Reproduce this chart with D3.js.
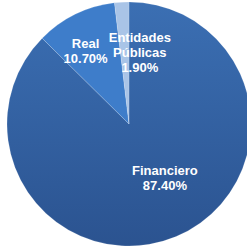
<!DOCTYPE html>
<html>
<head>
<meta charset="utf-8">
<script src="https://cdn.jsdelivr.net/npm/d3@7"></script>
<style>
  body { margin: 0; background: #fff; }
  svg { display: block; }
  .lbl { font-family: "Liberation Sans", Arial, sans-serif; font-weight: bold; font-size: 13px; fill: #fff; }
</style>
</head>
<body>
<div id="chart"></div>
<script>
// data
var sectors = ["Financiero", "Real", "Entidades Públicas"];
var shares = [87.40, 10.70, 1.90];
var labelLines = [["Financiero", "87.40%"], ["Real", "10.70%"], ["Entidades", "Públicas", "1.90%"]];

var width = 247, height = 248;
var cx = 129, cy = 124, radius = 122;

var svg = d3.select("#chart").append("svg")
    .attr("width", width)
    .attr("height", height);

// gradient for the big slice
var defs = svg.append("defs");
var grad = defs.append("linearGradient")
    .attr("id", "gFin")
    .attr("x1", 0).attr("y1", 0).attr("x2", 0).attr("y2", 1);
grad.append("stop").attr("offset", "0%").attr("stop-color", "#3b6fb3");
grad.append("stop").attr("offset", "100%").attr("stop-color", "#2b5390");

var fills = ["url(#gFin)", "#3e7dca", "#a9c4e7"];

var pie = d3.pie().sort(null).value(function(d) { return d; });
var arc = d3.arc().innerRadius(0).outerRadius(radius);

var g = svg.append("g").attr("transform", "translate(" + cx + "," + cy + ")");

var arcs = pie(shares);

g.selectAll("path.slice")
    .data(arcs)
  .enter().append("path")
    .attr("class", "slice")
    .attr("d", arc)
    .attr("fill", function(d, i) { return fills[i]; })
    .attr("stroke", "rgba(255,255,255,0.25)")
    .attr("stroke-width", 0.6);

// label placement: centroid at a radius, plus small nudges
var labelPos = [
    {r: 62, dx: 12, dy: -4},
    {r: 85, dx: -6, dy: 3},
    {r: 70, dx: 15, dy: -2}
];

arcs.forEach(function(d, i) {
    var p = labelPos[i];
    var c = d3.arc().innerRadius(p.r).outerRadius(p.r).centroid(d);
    var lines = labelLines[i];
    var lh = 15;
    var t = g.append("text")
        .attr("class", "lbl")
        .attr("text-anchor", "middle")
        .attr("transform", "translate(" + (c[0] + p.dx) + "," + (c[1] + p.dy) + ")");
    lines.forEach(function(s, k) {
        t.append("tspan")
            .attr("x", 0)
            .attr("y", (k - (lines.length - 1) / 2) * lh + 5)
            .text(s);
    });
});
</script>
</body>
</html>
